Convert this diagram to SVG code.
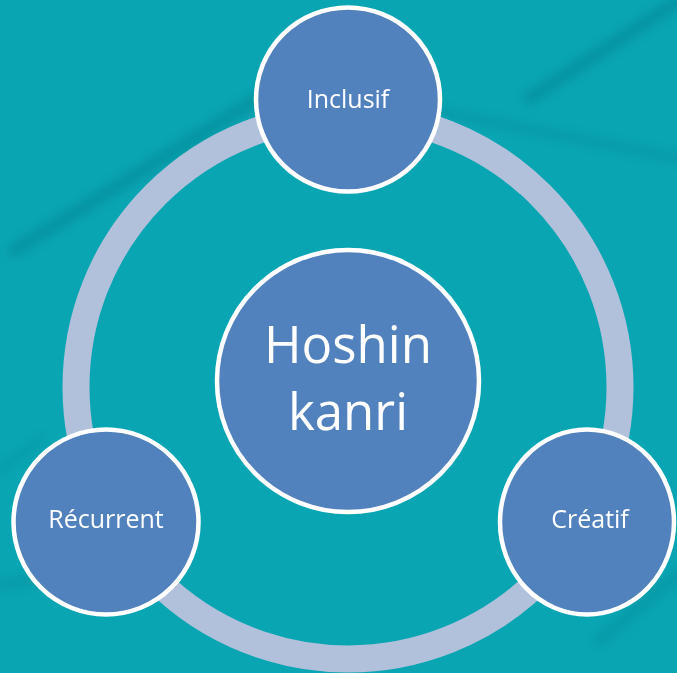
<svg xmlns="http://www.w3.org/2000/svg" width="677" height="673" viewBox="0 0 677 673">
  <defs>
    <filter id="soft" filterUnits="userSpaceOnUse" x="-50" y="-50" width="777" height="773">
      <feGaussianBlur stdDeviation="5"/>
    </filter>
    <style>
      .node { fill: #5282BD; stroke: #FFFFFF; stroke-width: 4.5; }
      .label { fill: #FFFFFF; font-family: "Open Sans", "Noto Sans", sans-serif; text-anchor: middle; }
      .small { font-size: 25px; }
      .big { font-size: 51px; }
      .band { fill: none; stroke: #04808C; stroke-linecap: round; filter: url(#soft); }
    </style>
  </defs>

  <!-- background -->
  <rect x="0" y="0" width="677" height="673" fill="#0AA5B3"/>
  <g opacity="0.45">
    <path class="band" d="M 15 250 L 262 96" stroke-width="13"/>
    <path class="band" d="M 530 98 L 677 2" stroke-width="13"/>
    <path class="band" d="M 440 112 L 677 158" stroke-width="9" opacity="0.6"/>
    <path class="band" d="M 0 585 L 60 575" stroke-width="10" opacity="0.6"/>
    <path class="band" d="M 600 640 L 677 575" stroke-width="12" opacity="0.6"/>
    <path class="band" d="M 0 470 L 40 440" stroke-width="8" opacity="0.5"/>
  </g>

  <!-- connectors: cycle ring -->
  <g id="connectors">
    <circle cx="348" cy="387" r="272" fill="none" stroke="#B1C1DB" stroke-width="27"/>
  </g>

  <g id="node-center">
    <circle class="node" cx="348" cy="381" r="131"/>
    <text class="label big" x="348" y="363">Hoshin</text>
    <text class="label big" x="348" y="430">kanri</text>
  </g>

  <g id="node-inclusif">
    <circle class="node" cx="348" cy="99.5" r="92"/>
    <text class="label small" x="348" y="108">Inclusif</text>
  </g>

  <g id="node-recurrent">
    <circle class="node" cx="106" cy="522" r="92.5"/>
    <text class="label small" x="106" y="528">Récurrent</text>
  </g>

  <g id="node-creatif">
    <ellipse class="node" cx="587" cy="522" rx="87" ry="92.5"/>
    <text class="label small" x="590" y="528">Créatif</text>
  </g>
</svg>
